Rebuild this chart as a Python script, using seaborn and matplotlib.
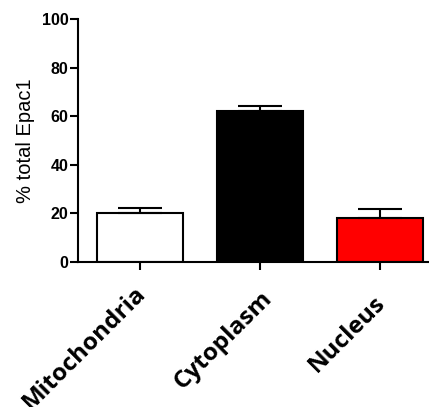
import pandas as pd
import matplotlib
matplotlib.use("Agg")
import matplotlib.pyplot as plt
import matplotlib.transforms as mtransforms
import seaborn as sns

# =====================================
# Data
# =====================================
compartments = ["Mitochondria", "Cytoplasm", "Nucleus"]
mean_pct = [20.3, 62.3, 18.0]
sem_pct = [1.8, 1.8, 3.8]
bar_colors = ["#ffffff", "#000000", "#ff0000"]

df = pd.DataFrame({"Compartment": compartments, "Epac1": mean_pct})

sns.set_style("ticks")
plt.rcParams["font.family"] = ["Liberation Sans", "DejaVu Sans"]
plt.rcParams["text.color"] = "black"
plt.rcParams["axes.labelcolor"] = "black"
plt.rcParams["xtick.color"] = "black"
plt.rcParams["ytick.color"] = "black"

fig = plt.figure(figsize=(4.29, 4.07), dpi=100)
ax = fig.add_axes([78 / 429, 1 - 262 / 407, 350 / 429, 243 / 407])

sns.barplot(data=df, x="Compartment", y="Epac1", hue="Compartment",
            palette=bar_colors, saturation=1, width=0.72,
            edgecolor="black", linewidth=1.5,
            legend=False, errorbar=None, ax=ax)

# upper-only error bars
ax.errorbar(range(len(compartments)), mean_pct,
            yerr=[[0] * len(sem_pct), sem_pct], fmt="none",
            ecolor="black", elinewidth=1.5, capsize=15.8, capthick=1.5,
            zorder=1)

ax.set_ylim(0, 100)
ax.set_xlim(-0.517, 2.4)
ax.set_yticks([0, 20, 40, 60, 80, 100])
ax.set_xlabel("")
ax.set_ylabel("% total Epac1", fontsize=14.5, labelpad=5)

for side in ["top", "right"]:
    ax.spines[side].set_visible(False)
for side in ["left", "bottom"]:
    ax.spines[side].set_linewidth(1.5)
    ax.spines[side].set_color("black")

ax.tick_params(axis="y", width=1.5, length=5.5, pad=1.5)
ax.tick_params(axis="x", width=1.5, length=5.5, pad=13)
for lbl in ax.get_yticklabels():
    lbl.set_fontweight("bold")
    lbl.set_fontsize(11.5)

ax.set_xticks(range(len(compartments)))
ax.set_xticklabels(compartments, rotation=45, ha="right", va="center_baseline",
                   rotation_mode="anchor", fontsize=17.5,
                   fontweight="bold", family=["Open Sans", "DejaVu Sans"])

# small per-label nudges (pixels) to sit like the original
nudges = [(0, 0), (7, -5), (0, -10)]
for lbl, (dx, dy) in zip(ax.get_xticklabels(), nudges):
    shift = mtransforms.ScaledTranslation(dx / 100, dy / 100, fig.dpi_scale_trans)
    lbl.set_transform(lbl.get_transform() + shift)

plt.savefig("out.png", dpi=100)
plt.close()
